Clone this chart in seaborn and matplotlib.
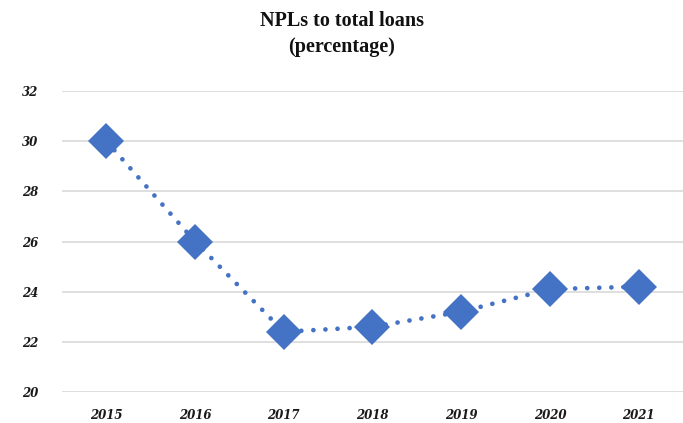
import matplotlib
matplotlib.use("Agg")
import matplotlib.pyplot as plt
import seaborn as sns
import pandas as pd

years = [2015, 2016, 2017, 2018, 2019, 2020, 2021]
npl_ratio = [30.0, 26.0, 22.4, 22.6, 23.2, 24.1, 24.2]
y_ticks = [20, 22, 24, 26, 28, 30, 32]

df = pd.DataFrame({"year": years, "npl": npl_ratio})

sns.set_theme(style="white")
plt.rcParams["font.family"] = ["Liberation Serif", "DejaVu Serif"]

fig = plt.figure(figsize=(6.83, 4.23), dpi=100)
ax = fig.add_axes([62 / 683, 31 / 423, 621 / 683, 301 / 423])

blue = "#4472C4"
sns.lineplot(
    data=df, x="year", y="npl", ax=ax, color=blue,
    linewidth=3.4, linestyle=(0, (0.01, 2.55)), dash_capstyle="round",
    marker="D", markersize=18.5, markeredgewidth=0, markerfacecolor=blue,
    zorder=3,
)

ax.set_xlim(2014.5, 2021.5)
ax.set_ylim(20, 32)
ax.set_yticks(y_ticks)
ax.set_xticks(years)
ax.set_yticklabels([str(t) for t in y_ticks])
ax.set_xticklabels([str(y) for y in years])
ax.yaxis.grid(True, color="#D9D9D9", linewidth=1.2)
ax.xaxis.grid(False)
ax.set_axisbelow(True)
for s in ax.spines.values():
    s.set_visible(False)
ax.set_xlabel("")
ax.set_ylabel("")
ax.tick_params(axis="both", length=0, colors="#1a1a1a")
ax.tick_params(axis="y", pad=17)
ax.tick_params(axis="x", pad=12)
for lab in ax.get_xticklabels() + ax.get_yticklabels():
    lab.set_family("DejaVu Serif")
    lab.set_fontsize(8.5)
    lab.set_fontweight("bold")
    lab.set_fontstyle("italic")

fig.text(0.5, 0.975, "NPLs to total loans\n(percentage)", ha="center", va="top",
         fontsize=14.5, fontweight="bold", color="#111111", linespacing=1.45)

fig.savefig("out.png", dpi=100, facecolor="white")
